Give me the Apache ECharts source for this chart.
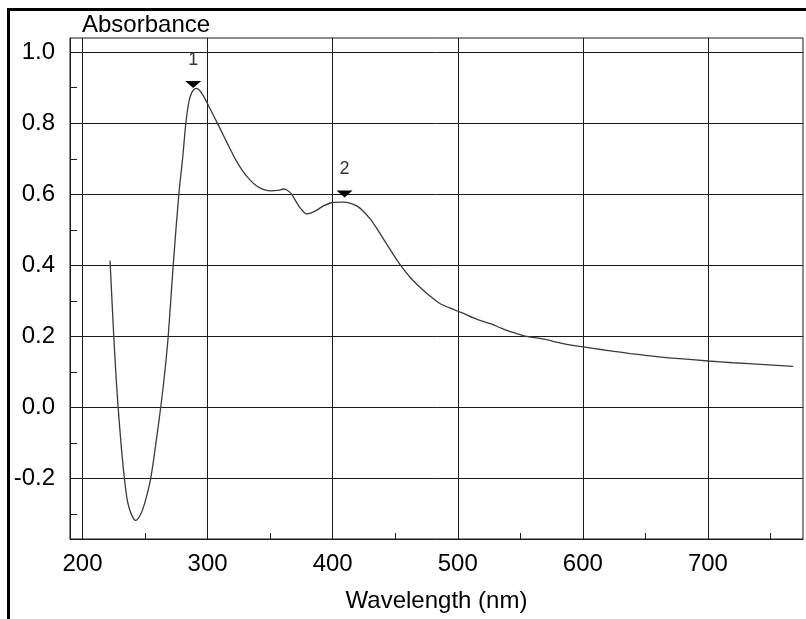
<!DOCTYPE html>
<html>
<head>
<meta charset="utf-8">
<script src="https://cdn.jsdelivr.net/npm/echarts@6/dist/echarts.min.js"></script>
<style>
  html, body { margin: 0; padding: 0; background: #fff; }
  #chart { width: 806px; height: 619px; }
</style>
</head>
<body>
<div id="chart"></div>
<script>
var wavelengths = [222, 225, 227, 228.5, 231, 233.5, 236, 239, 242.5, 245, 248, 251, 254.5, 258.5, 262.5, 265.5, 268.5, 272.5, 277, 280, 282.6, 284.5, 286, 288.5, 291, 293.5, 296.5, 300, 305, 310, 316, 323, 328, 334, 339, 345, 350, 356, 361, 364, 367, 371, 374, 379, 383, 387, 393, 400, 408, 415, 420, 424, 430, 436, 443, 449, 455, 462, 470, 478, 486, 493, 500, 506, 512, 519, 526, 533, 539, 547, 555, 563, 571, 579, 587, 597, 613, 625, 638, 650, 665, 680, 700, 720, 745, 768];
var absorbance = [0.414, 0.20, 0.077, 0.0, -0.11, -0.2, -0.265, -0.3, -0.318, -0.31, -0.288, -0.253, -0.2, -0.105, 0.0, 0.09, 0.2, 0.4, 0.6, 0.7, 0.8, 0.85, 0.874, 0.893, 0.898, 0.893, 0.878, 0.855, 0.82, 0.785, 0.742, 0.694, 0.666, 0.64, 0.624, 0.613, 0.610, 0.611, 0.615, 0.611, 0.601, 0.578, 0.562, 0.545, 0.548, 0.555, 0.568, 0.577, 0.578, 0.574, 0.566, 0.554, 0.531, 0.5, 0.461, 0.428, 0.397, 0.366, 0.338, 0.313, 0.292, 0.281, 0.271, 0.263, 0.253, 0.244, 0.236, 0.226, 0.217, 0.208, 0.2, 0.196, 0.191, 0.184, 0.178, 0.172, 0.164, 0.158, 0.152, 0.147, 0.141, 0.137, 0.131, 0.126, 0.121, 0.116];

var xTicks = [200, 300, 400, 500, 600, 700];
var xMinorTicks = [250, 350, 450, 550, 650, 750];
var yTicks = [-0.2, 0.0, 0.2, 0.4, 0.6, 0.8, 1.0];
var yMinorTicks = [-0.3, -0.1, 0.1, 0.3, 0.5, 0.7, 0.9];

var peakWl = [288.5, 409.5];
var peakAbs = [0.909, 0.601];
var peakNames = ['1', '2'];

(function() {
  var font = '"Liberation Sans", Arial, sans-serif';
  var gridColor = '#1a1a1a';

  var points = wavelengths.map(function(w, i) { return [w, absorbance[i]]; });
  var peaks = peakWl.map(function(w, i) {
    return { coord: [w, peakAbs[i]], name: peakNames[i] };
  });

  var chart = echarts.init(document.getElementById('chart'), null, { renderer: 'canvas' });
  chart.setOption({
    animation: false,
    backgroundColor: '#fff',
    title: {
      text: 'Absorbance',
      left: 82, top: 13, padding: 0,
      textStyle: { fontFamily: font, fontSize: 24, fontWeight: 'normal', color: '#000' }
    },
    graphic: [{
      type: 'rect',
      shape: { x: 8.5, y: 9.5, width: 1000, height: 1000 },
      style: { fill: 'none', stroke: '#000', lineWidth: 3 },
      silent: true
    }],
    grid: {
      left: 70, right: 3, top: 38, bottom: 80,
      show: true, borderColor: gridColor, borderWidth: 1, backgroundColor: 'transparent'
    },
    xAxis: [{
      type: 'value', min: 190, max: 776,
      name: 'Wavelength (nm)', nameLocation: 'middle', nameGap: 50,
      nameTextStyle: { fontFamily: font, fontSize: 24, color: '#000' },
      axisLine: { show: true, onZero: false, lineStyle: { color: gridColor } },
      axisTick: { show: false, customValues: xTicks },
      axisLabel: { customValues: xTicks, fontFamily: font, fontSize: 24, color: '#000', margin: 13 },
      splitLine: { show: true, lineStyle: { color: gridColor, width: 1 } }
    }, {
      type: 'value', min: 190, max: 776, position: 'bottom',
      axisLine: { show: false, onZero: false },
      axisTick: { show: true, inside: true, length: 6, customValues: xMinorTicks, lineStyle: { color: gridColor } },
      axisLabel: { show: false },
      splitLine: { show: false }
    }],
    yAxis: [{
      type: 'value', min: -0.37, max: 1.04,
      axisLine: { show: true, onZero: false, lineStyle: { color: gridColor } },
      axisTick: { show: false, customValues: yTicks },
      axisLabel: {
        customValues: yTicks, fontFamily: font, fontSize: 24, color: '#000', margin: 15,
        padding: [5, 0, 0, 0],
        formatter: function(v) { return v.toFixed(1); }
      },
      splitLine: { show: true, lineStyle: { color: gridColor, width: 1 } }
    }, {
      type: 'value', min: -0.37, max: 1.04, position: 'left',
      axisLine: { show: false, onZero: false },
      axisTick: { show: true, inside: true, length: 7, customValues: yMinorTicks, lineStyle: { color: gridColor } },
      axisLabel: { show: false },
      splitLine: { show: false }
    }],
    series: [{
      type: 'line',
      data: points,
      xAxisIndex: 0, yAxisIndex: 0,
      showSymbol: false,
      smooth: 0.3,
      lineStyle: { color: '#3a3a3a', width: 1.3 },
      markPoint: {
        symbol: 'triangle',
        symbolSize: [16, 7],
        symbolRotate: 180,
        itemStyle: { color: '#000' },
        label: {
          show: true, position: 'top', distance: 12,
          formatter: '{b}', fontFamily: font, fontSize: 18, color: '#333'
        },
        data: peaks
      }
    }]
  });
})();
</script>
</body>
</html>
